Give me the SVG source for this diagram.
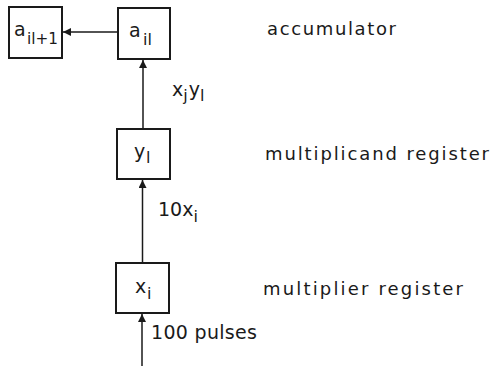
<svg xmlns="http://www.w3.org/2000/svg" width="491" height="366" viewBox="0 0 491 366">
<style>
.box{fill:#fff;stroke:#1a1a1a;stroke-width:2}
.ln{fill:none;stroke:#1a1a1a;stroke-width:1.5}
text{font-family:"DejaVu Sans","Liberation Sans",sans-serif;fill:#1a1a1a}
.m{font-size:19px}
.s{font-size:16px}
.lab{font-size:18px}
</style>
<defs>
<marker id="ah" markerWidth="8" markerHeight="8" refX="8" refY="4" orient="auto" markerUnits="userSpaceOnUse">
<path d="M0,0 L8,4 L0,8 Z" fill="#1a1a1a"/>
</marker>
</defs>
<g id="connectors">
<line class="ln" x1="118" y1="32" x2="63" y2="32" marker-end="url(#ah)"/>
<line class="ln" x1="143" y1="129" x2="143" y2="60" marker-end="url(#ah)"/>
<line class="ln" x1="142.5" y1="263" x2="142.5" y2="180" marker-end="url(#ah)"/>
<line class="ln" x1="142" y1="366" x2="142" y2="314" marker-end="url(#ah)"/>
</g>
<g id="node-ail1">
<rect class="box" x="9" y="7" width="53" height="51"/>
<text class="m" x="14" y="36">a</text>
<text class="s" x="27" y="44" textLength="31" lengthAdjust="spacingAndGlyphs">il+1</text>
</g>
<g id="node-ail">
<rect class="box" x="118" y="8" width="52" height="51"/>
<text class="m" x="129" y="37">a</text>
<text class="s" x="143" y="45">il</text>
</g>
<g id="node-yl">
<rect class="box" x="117" y="129" width="53" height="50"/>
<text class="m" x="134" y="158">y</text>
<text class="s" x="146" y="163">l</text>
</g>
<g id="node-xi">
<rect class="box" x="116" y="263" width="53" height="50"/>
<text class="m" x="135" y="293">x</text>
<text class="s" x="147" y="299">i</text>
</g>
<g id="labels">
<text class="m" x="172" y="96">x<tspan class="s" dy="5">j</tspan><tspan dy="-5" dx="1">y</tspan><tspan class="s" dy="5">l</tspan></text>
<text class="m" x="158" y="216">10x<tspan class="s" dy="6">i</tspan></text>
<text class="m" x="151" y="339" textLength="106" lengthAdjust="spacing">100 pulses</text>
<text class="lab" x="267" y="35" textLength="129" lengthAdjust="spacing">accumulator</text>
<text class="lab" x="265" y="160" textLength="224" lengthAdjust="spacing">multiplicand  register</text>
<text class="lab" x="263" y="295" textLength="200" lengthAdjust="spacing">multiplier  register</text>
</g>
</svg>
